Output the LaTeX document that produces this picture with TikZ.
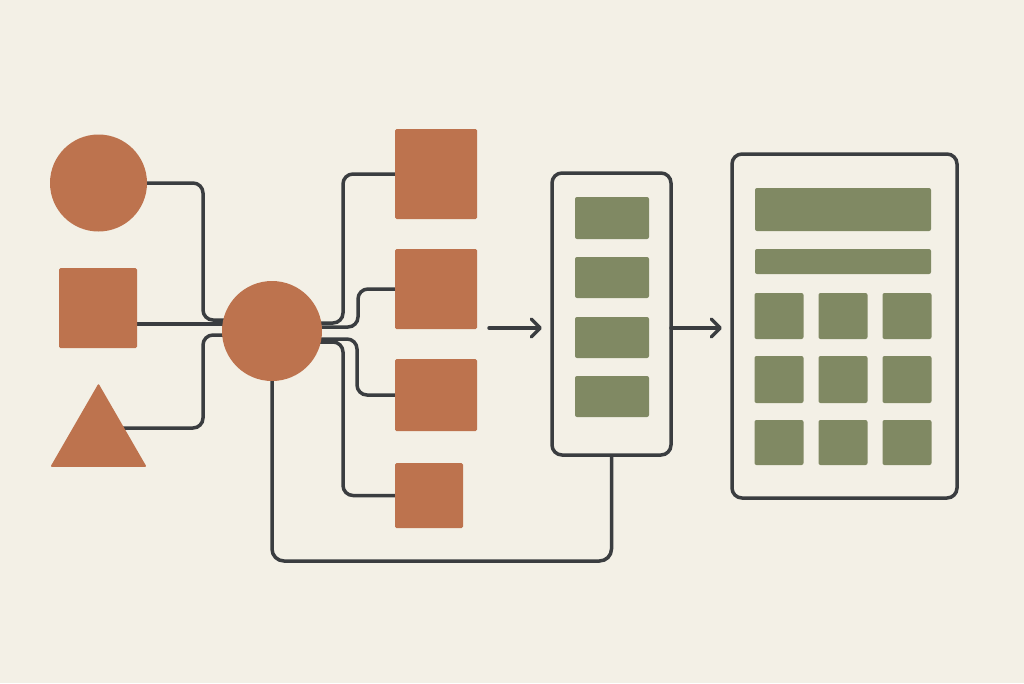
\documentclass[tikz,border=0pt]{standalone}
\usetikzlibrary{shapes.geometric,arrows.meta,calc}
\definecolor{bgc}{RGB}{243,240,230}
\definecolor{rust}{RGB}{189,115,78}
\definecolor{sage}{RGB}{128,137,99}
\definecolor{ink}{RGB}{58,61,64}
\pgfdeclarelayer{bglayer}
\pgfdeclarelayer{connlayer}
\pgfsetlayers{bglayer,connlayer,main}
\tikzset{
  rustcircle/.style={circle,fill=rust,draw=none,inner sep=0pt,outer sep=0pt,minimum size=#1},
  rustbox/.style={rectangle,fill=rust,draw=none,rounded corners=1.5pt,inner sep=0pt,outer sep=0pt},
  sagebox/.style={rectangle,fill=sage,draw=none,rounded corners=2pt,inner sep=0pt,outer sep=0pt},
  panel/.style={rectangle,draw=ink,line width=3.5pt,fill=bgc,rounded corners=10pt,inner sep=0pt,outer sep=0pt},
  conn/.style={draw=ink,line width=3.5pt,rounded corners=10pt,line cap=round},
  flowarrow/.style={draw=ink,line width=3.5pt,line cap=round,-{Straight Barb[length=9pt,width=18pt,round]}},
}
\begin{document}
\begin{tikzpicture}[x=1pt,y=-1pt]
\useasboundingbox (0,0) rectangle (1024,683);
\begin{pgfonlayer}{bglayer}
\fill[bgc] (0,0) rectangle (1024,683);
\end{pgfonlayer}

% left shapes
\node[rustcircle=97pt] (c1) at (98.5,183) {};
\node[rustbox,minimum width=78pt,minimum height=80pt] (sq) at (98,308) {};
\node[regular polygon,regular polygon sides=3,fill=rust,draw=rust,line width=1.5pt,line join=round,inner sep=0pt,outer sep=0pt,minimum size=108pt] (tri) at (98.5,439) {};

% hub
\node[rustcircle=100pt] (hub) at (272,331) {};

% right squares
\node[rustbox,minimum width=82pt,minimum height=90pt] (A) at (436,174) {};
\node[rustbox,minimum width=82pt,minimum height=80pt] (B) at (436,289) {};
\node[rustbox,minimum width=82pt,minimum height=72pt] (C) at (436,395) {};
\node[rustbox,minimum width=68pt,minimum height=65pt] (D) at (429,495.5) {};

% list panel
\node[panel,minimum width=119pt,minimum height=282pt] (list) at (611.5,314) {};
\node[sagebox,minimum width=74pt,minimum height=42pt] (l1) at (612,218) {};
\node[sagebox,minimum width=74pt,minimum height=41pt] (l2) at (612,277.5) {};
\node[sagebox,minimum width=74pt,minimum height=41pt] (l3) at (612,337.5) {};
\node[sagebox,minimum width=74pt,minimum height=41pt] (l4) at (612,396.5) {};

% big panel
\node[panel,minimum width=225pt,minimum height=344pt] (grid) at (844.5,326) {};
\node[sagebox,minimum width=176pt,minimum height=43pt] (g0) at (843,209.5) {};
\node[sagebox,minimum width=176pt,minimum height=25pt] (g1) at (843,261.5) {};
\foreach \r/\y/\h in {1/316/46,2/379.5/47,3/442.5/45}{
  \foreach \c/\x in {1/779,2/843,3/907}{
    \node[sagebox,minimum width=49pt,minimum height=\h pt] (g\r\c) at (\x,\y) {};
  }
}

% connectors
\coordinate (arrowstart) at (489,328);
\coordinate (loop) at (611.5,561);
\begin{pgfonlayer}{connlayer}
\draw[conn] (c1.center) -| ($(hub.center)+(-69,-11)$) -- ($(hub.center)+(0,-11)$);
\draw[conn] ($(sq.center)+(0,16)$) -- ($(hub.center)+(0,-7)$);
\draw[conn] ($(tri.center)+(0,-11)$) -| ($(hub.center)+(-69,4)$) -- ($(hub.center)+(0,4)$);
\draw[conn] ($(hub.center)+(0,-8)$) -| ($(A.west)+(-52,0)$) -- (A.west);
\draw[conn] ($(hub.center)+(0,-4)$) -| ($(B.west)+(-37,0)$) -- (B.west);
\draw[conn] ($(hub.center)+(0,8)$) -| ($(C.west)+(-38,0)$) -- (C.west);
\draw[conn] ($(hub.center)+(0,11)$) -| ($(D.west)+(-52,0)$) -- (D.west);
\draw[conn,rounded corners=12pt] (hub.center) |- (loop) -- (list.south);
\end{pgfonlayer}
\draw[flowarrow,shorten >=10pt] (arrowstart) -- (arrowstart -| list.west);
\draw[flowarrow,shorten >=10pt] (arrowstart -| list.east) -- (arrowstart -| grid.west);
\end{tikzpicture}
\end{document}
